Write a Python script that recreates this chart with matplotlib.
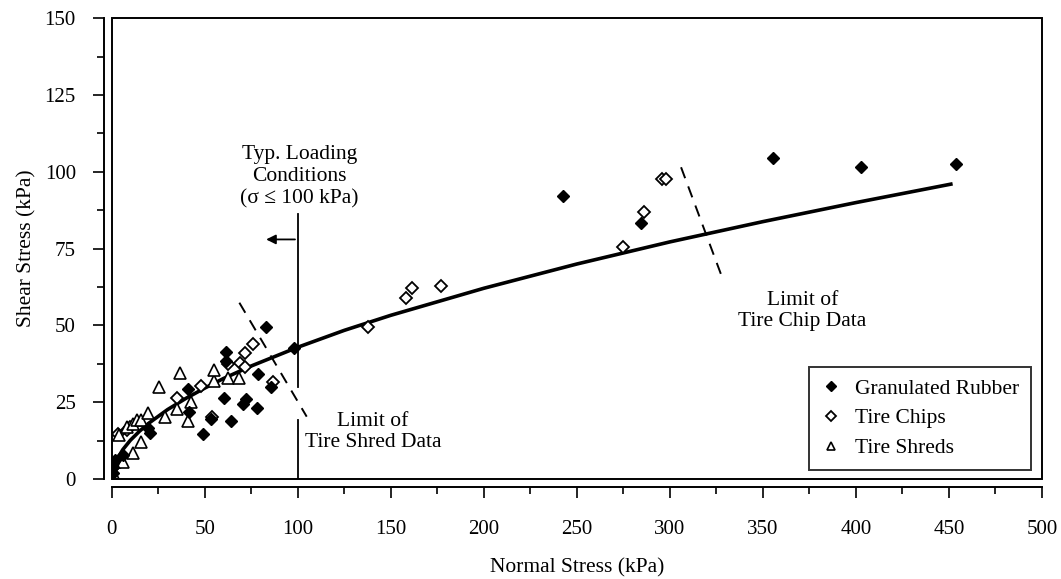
import matplotlib
matplotlib.use('Agg')
import matplotlib.pyplot as plt
from matplotlib.patches import Rectangle
from matplotlib.ticker import MultipleLocator

plt.rcParams['font.family'] = ['Liberation Serif', 'DejaVu Serif']

# Granulated rubber (filled diamonds)
gr_x = [0.9, 0.9, 1.8, 6.3, 19.3, 20.6, 41.2, 41.7, 48.9, 53.4, 60.5, 61.4, 61.4,
        64.0, 70.5, 72.0, 77.9, 78.6, 82.8, 85.5, 98.1, 242.4, 284.3, 355.6, 402.6, 453.6]
gr_y = [1.8, 4.0, 6.2, 7.8, 16.7, 15.1, 29.3, 21.7, 14.5, 19.5, 26.5, 38.4, 41.2,
        18.9, 24.5, 26.0, 23.2, 34.2, 49.6, 29.9, 42.5, 92.1, 83.5, 104.6, 101.7, 102.5]

# Tire chips (open diamonds)
tc_x = [2.5, 3.5, 8.0, 9.8, 35.3, 48.0, 53.7, 62.3, 69.0, 71.6, 71.8, 75.8, 86.5,
        137.9, 158.2, 161.2, 176.8, 275.0, 286.1, 296.0, 298.0]
tc_y = [4.5, 14.8, 16.0, 17.0, 26.5, 30.3, 20.3, 37.3, 37.9, 40.9, 36.6, 44.0, 31.7,
        49.6, 59.0, 62.3, 62.8, 75.4, 86.9, 97.6, 97.8]

# Tire shreds (open triangles)
ts_x = [0.9, 1.8, 4.1, 6.3, 8.1, 11.6, 11.6, 13.4, 15.7, 15.7, 19.3, 25.2, 28.6,
        35.3, 36.7, 41.2, 42.6, 55.0, 55.1, 62.3, 68.6]
ts_y = [1.8, 5.4, 14.3, 5.6, 17.0, 8.4, 17.8, 19.2, 12.1, 19.2, 21.4, 29.9, 20.1,
        22.7, 34.6, 18.9, 25.2, 31.9, 35.5, 33.0, 33.0]

# fitted envelope
fit_x = [1, 3, 6, 10, 15, 20, 30, 40, 50, 60, 75, 100, 125, 150, 200, 250, 300, 350, 400, 451]
fit_y = [3.7, 6.6, 9.6, 12.6, 15.6, 18.2, 22.6, 26.3, 29.6, 32.7, 36.8, 42.9, 48.4,
         53.3, 62.1, 70.0, 77.2, 83.8, 90.0, 96.0]

FS = 15.5

fig = plt.figure(figsize=(10.61, 5.79), dpi=100)
ax = fig.add_axes([0.1053, 0.1727, 0.8768, 0.7957])

ax.plot(fit_x, fit_y, color='black', lw=2.6, zorder=2)
ax.plot(tc_x, tc_y, 'D', ms=5.8, mfc='white', mec='black', mew=1.3, ls='none', zorder=3, label='Tire Chips')
ax.plot(ts_x, ts_y, '^', ms=8, mfc='white', mec='black', mew=1.2, ls='none', zorder=3, label='Tire Shreds')
ax.plot(gr_x, gr_y, 'D', ms=6.3, mfc='black', mec='black', ls='none', zorder=4, label='Granulated Rubber')

# typical loading conditions line and arrow
ax.plot([100, 100], [0, 19.2], color='black', lw=1.3)
ax.plot([100, 100], [30.0, 86.3], color='black', lw=1.3)
ax.annotate('', xy=(81.5, 78), xytext=(100, 78),
            arrowprops=dict(arrowstyle='-|>', color='black', lw=1.3, mutation_scale=14))
ax.text(101, 98.4, 'Typ. Loading\nConditions\n(σ ≤ 100 kPa)', ha='center', va='center',
        fontsize=FS, linespacing=1.2)

# limit lines
ax.plot([68.6, 104.8], [57.4, 20.3], color='black', lw=1.4, ls=(0, (6, 4.5)))
ax.plot([306.0, 328.6], [101.5, 64.8], color='black', lw=1.4, ls=(0, (6, 4.5)))
ax.text(140.5, 15.2, 'Limit of\nTire Shred Data', ha='center', va='center', fontsize=FS, linespacing=1.15)
ax.text(371.3, 54.7, 'Limit of\nTire Chip Data', ha='center', va='center', fontsize=FS, linespacing=1.15)

ax.set_xlim(0, 500)
ax.set_ylim(0, 150)
ax.xaxis.set_major_locator(MultipleLocator(50))
ax.xaxis.set_minor_locator(MultipleLocator(25))
ax.yaxis.set_major_locator(MultipleLocator(25))
ax.yaxis.set_minor_locator(MultipleLocator(12.5))

for s in ['top', 'right']:
    ax.spines[s].set_visible(False)
for s in ['left', 'bottom']:
    ax.spines[s].set_position(('outward', 5.8))
    ax.spines[s].set_linewidth(1.4)
ax.add_patch(Rectangle((0, 0), 1, 1, transform=ax.transAxes, fill=False,
                       lw=1.4, ec='black', clip_on=False, zorder=5))

ax.tick_params(which='major', length=8, width=1.2, labelsize=15, direction='out')
ax.tick_params(which='minor', length=5, width=1.2, direction='out')
ax.tick_params(axis='x', pad=15.5)
ax.tick_params(axis='y', pad=12)

ax.set_xlabel('Normal Stress (kPa)', fontsize=FS)
ax.set_ylabel('Shear Stress (kPa)', fontsize=FS)
ax.xaxis.set_label_coords(0.5, -0.1715)
ax.yaxis.set_label_coords(-0.0814, 0.5)

handles, labels = ax.get_legend_handles_labels()
order = [2, 0, 1]
leg = ax.legend([handles[i] for i in order], [labels[i] for i in order],
                loc='lower right', bbox_to_anchor=(0.988, 0.0195), borderaxespad=0,
                fontsize=FS, frameon=True, fancybox=False, edgecolor='black', markerscale=0.8,
                handlelength=1.0, handletextpad=0.6, borderpad=0.55, labelspacing=0.45)
leg.get_frame().set_linewidth(1.4)

fig.savefig('out.png', dpi=100)
